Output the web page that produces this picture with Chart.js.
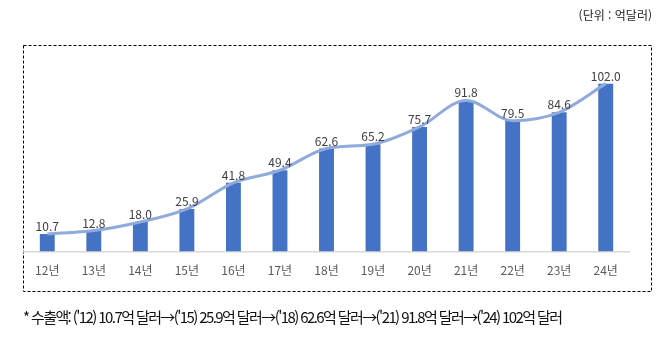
<!DOCTYPE html>
<html lang="ko">
<head>
<meta charset="utf-8">
<script src="https://cdn.jsdelivr.net/npm/chart.js@4"></script>
<style>
  html, body { margin: 0; padding: 0; background: #fff; }
  #wrap { position: relative; width: 667px; height: 340px; overflow: hidden; }
  #chart { position: absolute; left: 0; top: 0; }
  .unit {
    position: absolute; right: 15px; top: 6px;
    font: 12px "Noto Sans CJK KR", sans-serif; color: #222;
  }
  .note {
    position: absolute; left: 23px; top: 306px; white-space: nowrap;
    font: 15px "Noto Sans CJK KR", sans-serif; color: #111;
    letter-spacing: -1.6px;
  }
</style>
</head>
<body>
<div id="wrap">
  <canvas id="chart" width="667" height="340"></canvas>
  <div class="unit">(단위 : 억달러)</div>
  <div class="note">* 수출액: ('12) 10.7억 달러→('15) 25.9억 달러→('18) 62.6억 달러→('21) 91.8억 달러→('24) 102억 달러</div>
</div>
<script>
// 연도 / 수출액 (억달러)
const years = ['12년', '13년', '14년', '15년', '16년', '17년', '18년', '19년', '20년', '21년', '22년', '23년', '24년'];
const exportValues = [10.7, 12.8, 18.0, 25.9, 41.8, 49.4, 62.6, 65.2, 75.7, 91.8, 79.5, 84.6, 102.0];
const yMax = 120;

const COLORS = {
  bar: '#4472c4',
  line: '#8faadc',
  label: '#404040',
  tick: '#595959',
  axis: '#d9d9d9'
};
const FONT = '"Noto Sans CJK KR", "Noto Sans", sans-serif';

// 점선 테두리
const frameBox = {
  id: 'frameBox',
  beforeDraw(chart) {
    const ctx = chart.ctx;
    ctx.save();
    ctx.strokeStyle = '#000';
    ctx.lineWidth = 1;
    ctx.setLineDash([3, 2]);
    ctx.strokeRect(23.5, 45.5, 628, 246);
    ctx.restore();
  }
};

// 선 위 값 표시
const valueLabels = {
  id: 'valueLabels',
  afterDatasetsDraw(chart) {
    const ctx = chart.ctx;
    const meta = chart.getDatasetMeta(0);
    ctx.save();
    ctx.font = '12px ' + FONT;
    ctx.fillStyle = COLORS.label;
    ctx.textAlign = 'center';
    ctx.textBaseline = 'alphabetic';
    meta.data.forEach((pt, i) => {
      ctx.fillText(exportValues[i].toFixed(1), pt.x, pt.y - 3);
    });
    ctx.restore();
  }
};

new Chart(document.getElementById('chart'), {
  data: {
    labels: years,
    datasets: [
      {
        type: 'line',
        data: exportValues,
        borderColor: COLORS.line,
        borderWidth: 3,
        pointRadius: 0,
        cubicInterpolationMode: 'monotone',
        order: 0
      },
      {
        type: 'bar',
        data: exportValues,
        backgroundColor: COLORS.bar,
        barPercentage: 0.32,
        categoryPercentage: 1,
        order: 1
      }
    ]
  },
  options: {
    responsive: false,
    animation: false,
    layout: { padding: { left: 24, right: 38, top: 54, bottom: 50 } },
    plugins: {
      legend: { display: false },
      tooltip: { enabled: false }
    },
    scales: {
      x: {
        grid: { display: false, drawTicks: false },
        border: { color: COLORS.axis, width: 1.5 },
        ticks: { color: COLORS.tick, padding: 12, font: { family: FONT, size: 12 } }
      },
      y: {
        display: false,
        min: 0,
        max: yMax
      }
    }
  },
  plugins: [frameBox, valueLabels]
});
</script>
</body>
</html>
